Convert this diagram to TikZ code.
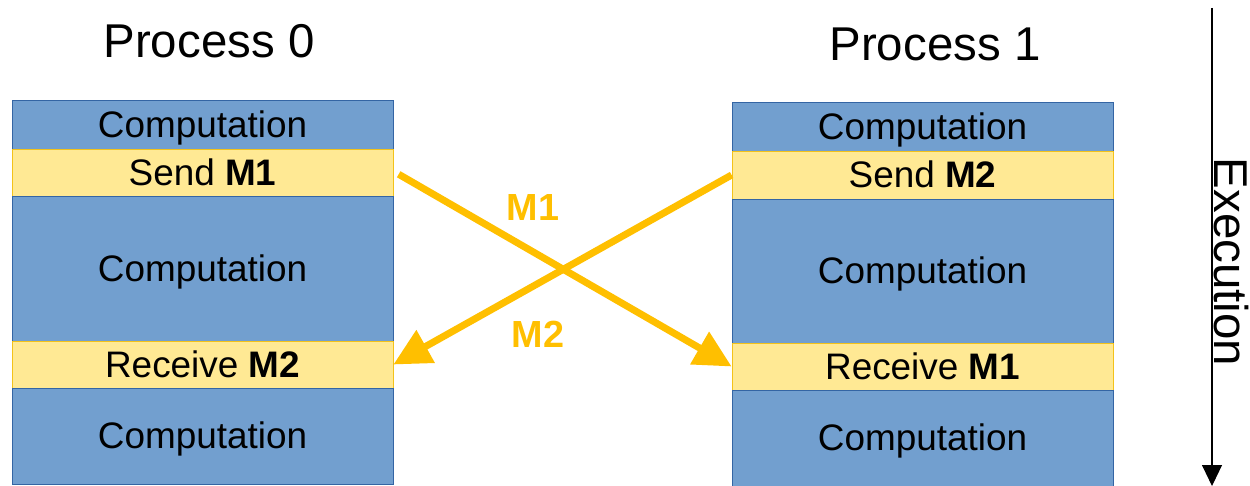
\documentclass[tikz,border=0pt]{standalone}
\usepackage{fontspec}
\setmainfont{Liberation Sans}
\usetikzlibrary{arrows.meta}
\definecolor{compblue}{HTML}{729FCF}
\definecolor{compedge}{HTML}{3465A4}
\definecolor{msgfill}{HTML}{FFE994}
\definecolor{msgedge}{HTML}{F3C21A}
\definecolor{arrowgold}{HTML}{FFBF00}
\tikzset{
  boxtext/.style={font=\fontsize{21}{25}\selectfont, text height=19pt, text depth=4.45pt},
  comp/.style={boxtext, draw=compedge, fill=compblue, line width=0.5pt, minimum width=7.62cm, inner sep=0pt},
  msg/.style={boxtext, draw=msgedge, fill=msgfill, line width=0.5pt, minimum width=7.62cm, inner sep=0pt},
  title/.style={font=\fontsize{27}{32}\selectfont, inner sep=0pt},
  msgarrow/.style={draw=arrowgold, line width=4pt, -{Triangle[length=0.74cm, width=0.72cm]}},
  msglabel/.style={text=arrowgold, font=\fontsize{21.5}{25}\selectfont\bfseries, inner sep=0pt}
}
\begin{document}
\begin{tikzpicture}[x=0.02cm, y=-0.02cm]
\useasboundingbox (0,0) rectangle (1250,486);
% titles
\node[title] (t0) at (209,41) {Process 0};
\node[title] (t1) at (935,44) {Process 1};
% process 0
\node[comp, minimum height=0.98cm] (l1) at (202.5,124.5) {Computation};
\node[msg,  minimum height=0.94cm] (ls) at (202.5,172.5) {Send \textbf{M1}};
\node[comp, minimum height=2.90cm] (l2) at (202.5,268.5) {Computation};
\node[msg,  minimum height=0.94cm] (lr) at (202.5,364.5) {Receive \textbf{M2}};
\node[comp, minimum height=1.92cm] (l3) at (202.5,436) {Computation};
% process 1
\node[comp, minimum height=0.98cm] (r1) at (922.5,126.5) {Computation};
\node[msg,  minimum height=0.96cm] (rs) at (922.5,175) {Send \textbf{M2}};
\node[comp, minimum height=2.88cm] (r2) at (922.5,271) {Computation};
\node[msg,  minimum height=0.94cm] (rr) at (922.5,366.5) {Receive \textbf{M1}};
\node[comp, minimum height=1.92cm] (r3) at (922.5,438) {Computation};
% messages
\draw[msgarrow] ([xshift=3pt,yshift=-1pt]ls.east) -- (rr.west);
\draw[msgarrow] (rs.west) -- (lr.east);
\node[msglabel] (m1) at (533,208) {M1};
\node[msglabel] (m2) at (538,334) {M2};
% execution axis
\coordinate (etop) at (1212,8);
\coordinate (ebot) at (1212,486);
\draw[line width=0.6pt, -{Triangle[length=0.42cm, width=0.4cm]}] (etop) -- (ebot);
\node[title, rotate=-90] (ex) at (1231,262) {Execution};
\end{tikzpicture}
\end{document}
